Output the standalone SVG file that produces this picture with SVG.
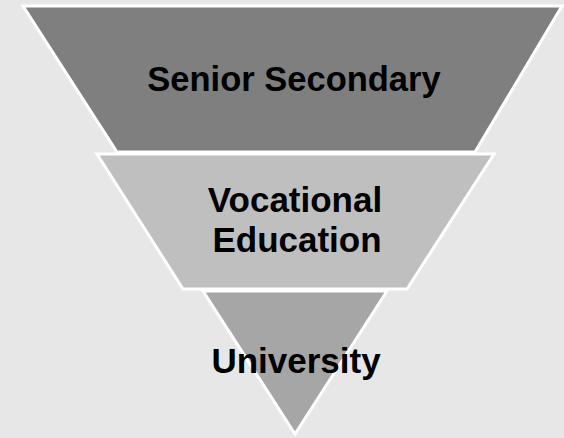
<svg xmlns="http://www.w3.org/2000/svg" width="564" height="438" viewBox="0 0 564 438">
  <style>
    .shape { stroke: #ffffff; stroke-width: 3; stroke-linejoin: miter; }
    .lbl { font-family: "Liberation Sans", Arial, sans-serif; font-weight: bold; font-size: 35px; fill: #000000; text-anchor: middle; }
  </style>
  <rect x="0" y="0" width="564" height="438" fill="#e7e7e7"/>
  <g id="senior-secondary">
    <polygon class="shape" fill="#7f7f7f" points="23,6 562,6 475,152 117,152"/>
    <text class="lbl" x="294" y="91" style="font-size:34.5px">Senior Secondary</text>
  </g>
  <g id="vocational-education">
    <polygon class="shape" fill="#bfbfbf" points="97,154 494,154 407,289 183,289"/>
    <text class="lbl" x="295" y="212">Vocational</text>
    <text class="lbl" x="297" y="252">Education</text>
  </g>
  <g id="university">
    <polygon class="shape" fill="#a6a6a6" points="203,291 387,291 295,434"/>
    <text class="lbl" x="296" y="373">University</text>
  </g>
  <g id="connectors"></g>
</svg>
